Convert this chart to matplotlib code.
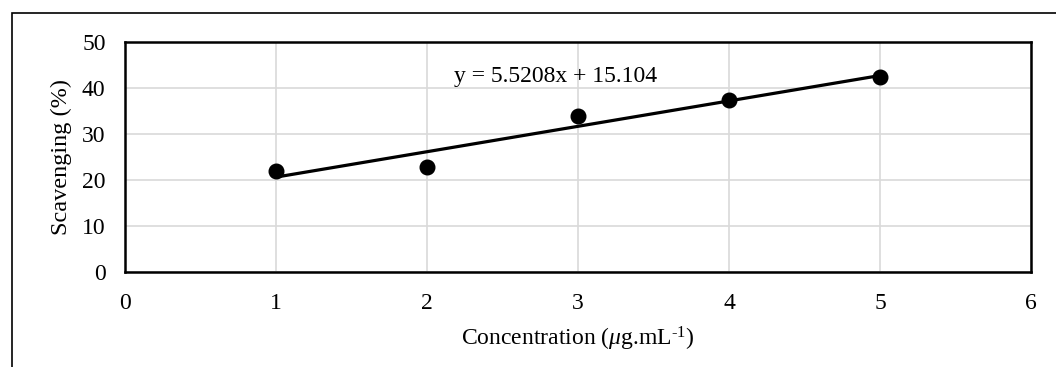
import numpy as np
import matplotlib.pyplot as plt
from matplotlib.patches import Rectangle

plt.rcParams['font.family'] = ['Liberation Serif', 'DejaVu Serif']
plt.rcParams['mathtext.fontset'] = 'custom'
plt.rcParams['mathtext.rm'] = 'Liberation Serif'
plt.rcParams['mathtext.it'] = 'Liberation Serif:italic'

# data
conc = [1, 2, 3, 4, 5]
scavenging = [21.9, 22.9, 33.9, 37.4, 42.3]
slope = 5.5208
intercept = 15.104
x_ticks = [0, 1, 2, 3, 4, 5, 6]
y_ticks = [0, 10, 20, 30, 40, 50]

fig = plt.figure(figsize=(10.56, 3.67), dpi=100)
ax = fig.add_axes([0.1184, 0.2589, 0.8579, 0.6267])

# outer chart border (only top and left visible in the crop)
fig.patches.append(Rectangle((12 / 1056, -0.5), 1.5, 1.5 - 13 / 367,
                             transform=fig.transFigure, fill=False,
                             edgecolor='black', linewidth=1.2, clip_on=False))

ax.grid(True, color='#d9d9d9', linewidth=1.2)
ax.set_axisbelow(True)

fit_x = np.array([conc[0], conc[-1]])
ax.plot(fit_x, slope * fit_x + intercept, color='black', linewidth=2.3, zorder=3)
ax.plot(conc, scavenging, 'o', color='black', markersize=10.5, zorder=4)

ax.text(2.18, 42.6, 'y = 5.5208x + 15.104', fontsize=17, ha='left', va='center')

ax.set_xlim(0, 6)
ax.set_ylim(0, 50)
ax.set_xticks(x_ticks)
ax.set_yticks(y_ticks)
ax.tick_params(length=0, labelsize=17)
ax.tick_params(axis='x', pad=15)
ax.tick_params(axis='y', pad=14)
for s in ax.spines.values():
    s.set_linewidth(1.8)

ax.set_xlabel(r'Concentration ($\mathit{\mu}$g.mL$^{\text{-1}}$)', fontsize=17, labelpad=8)
ax.set_ylabel('Scavenging (%)', fontsize=17.5, labelpad=7)

fig.savefig('out.png', dpi=100)
